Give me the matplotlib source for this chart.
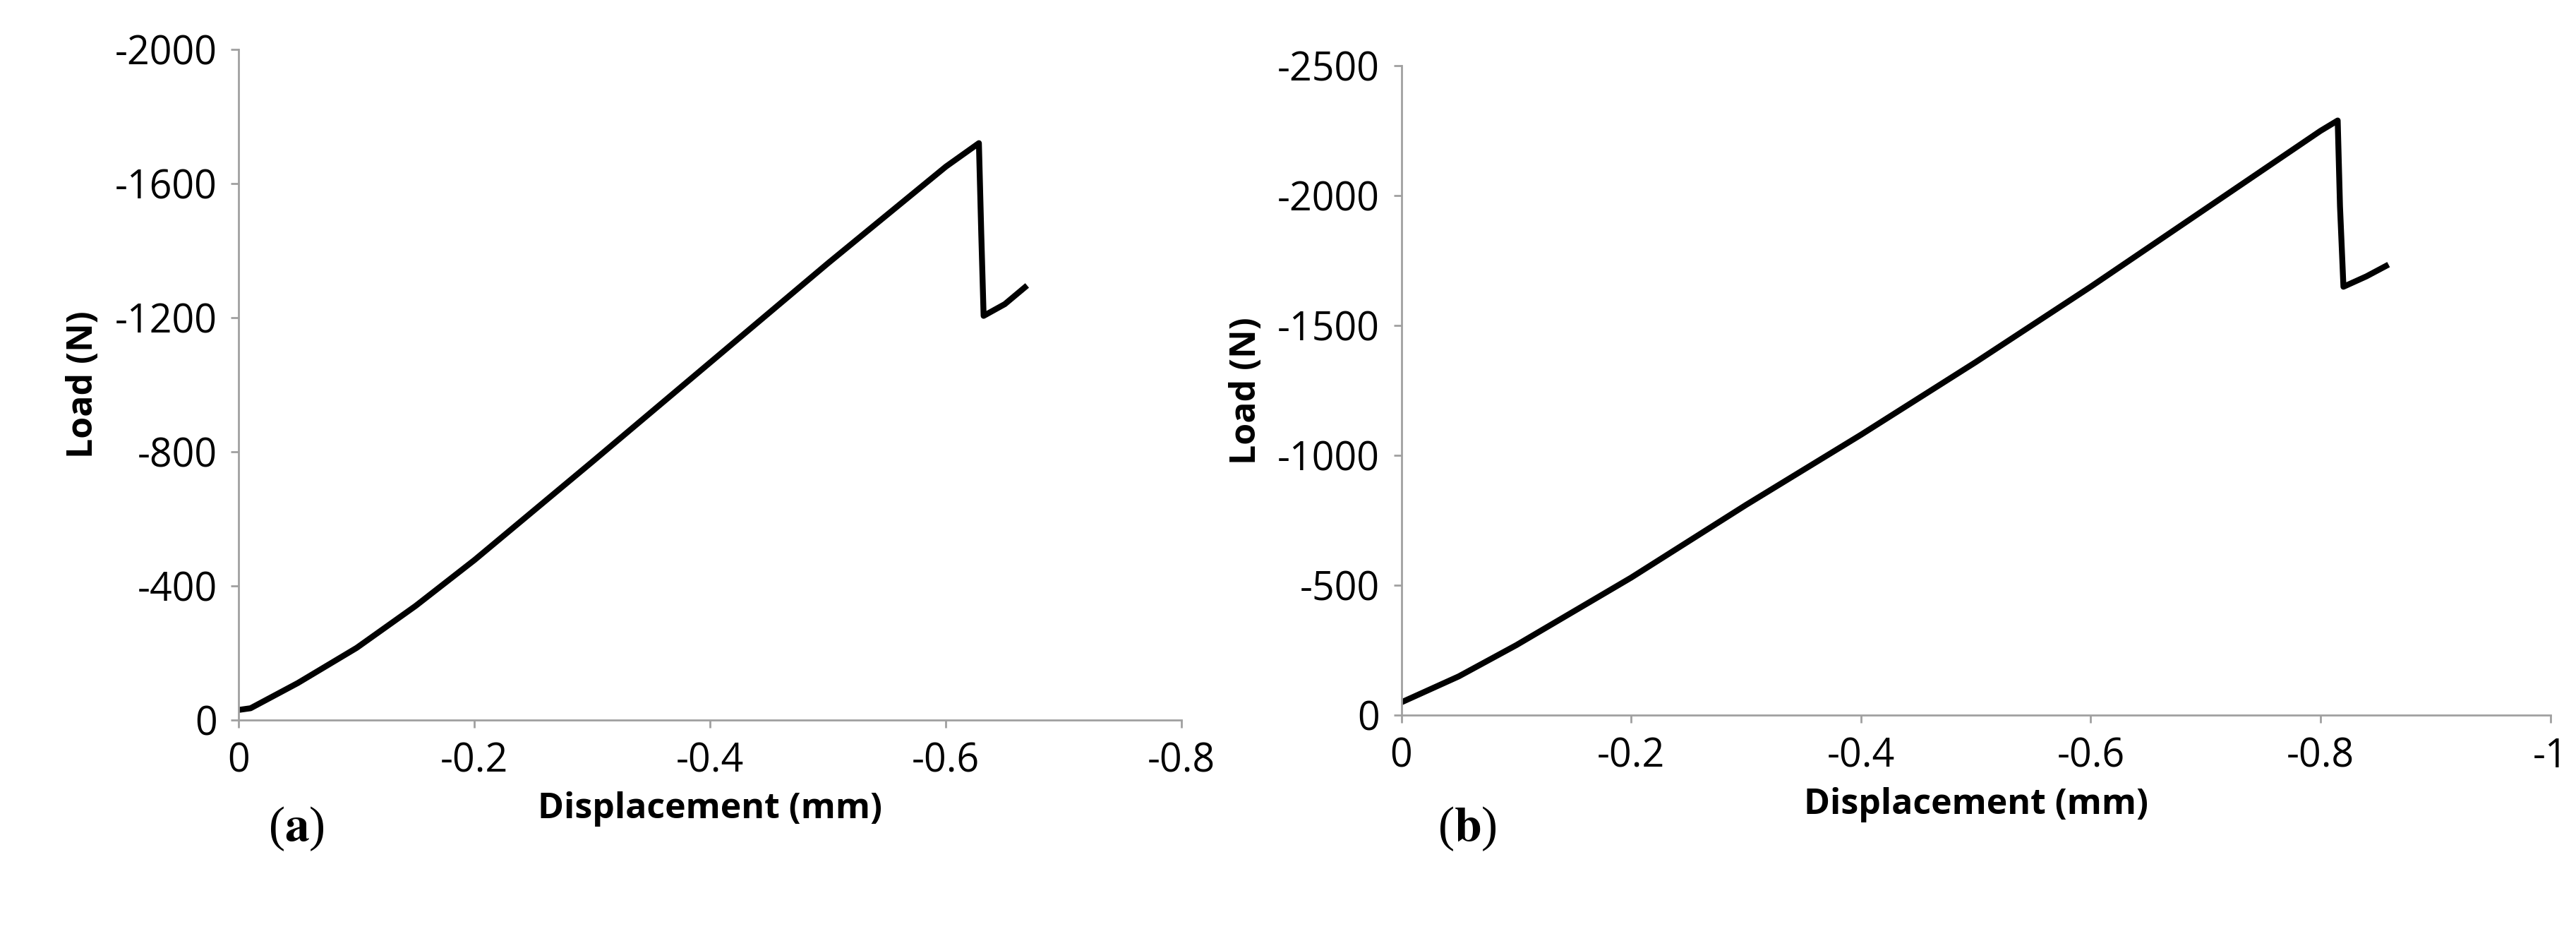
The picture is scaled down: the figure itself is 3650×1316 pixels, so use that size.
import matplotlib
matplotlib.use("Agg")
import matplotlib.pyplot as plt

# Panel (a)
a_disp = [0.0, -0.01, -0.05, -0.1, -0.15, -0.2, -0.3, -0.4, -0.5, -0.6, -0.628, -0.630, -0.632, -0.65, -0.667]
a_load = [-30, -35, -110, -215, -340, -477, -770, -1066, -1362, -1650, -1720, -1450, -1205, -1240, -1290]
# Panel (b)
b_disp = [0.0, -0.05, -0.1, -0.2, -0.3, -0.4, -0.5, -0.6, -0.7, -0.8, -0.815, -0.817, -0.82, -0.84, -0.857]
b_load = [-50, -150, -270, -530, -810, -1080, -1360, -1650, -1950, -2250, -2290, -1960, -1650, -1690, -1730]

a_xticks = [0, -0.2, -0.4, -0.6, -0.8]
a_yticks = [0, -400, -800, -1200, -1600, -2000]
b_xticks = [0, -0.2, -0.4, -0.6, -0.8, -1]
b_yticks = [0, -500, -1000, -1500, -2000, -2500]

plt.rcParams['font.family'] = ['Open Sans', 'DejaVu Sans']
plt.rcParams['mathtext.fontset'] = 'stix'
fig = plt.figure(figsize=(36.5, 13.16), dpi=100)
ax1 = fig.add_axes([0.0927, 0.225, 0.366, 0.722])
ax2 = fig.add_axes([0.544, 0.230, 0.446, 0.699])

def style(ax, xt, yt):
    ax.set_xlim(0, xt[-1]); ax.set_ylim(0, yt[-1])
    ax.set_xticks(xt); ax.set_yticks(yt)
    ax.set_xticklabels([f"{v:g}" for v in xt])
    ax.set_yticklabels([f"{v:g}" for v in yt])
    for s in ['top', 'right']:
        ax.spines[s].set_visible(False)
    for s in ['left', 'bottom']:
        ax.spines[s].set_color('#a0a0a0'); ax.spines[s].set_linewidth(2)
    ax.tick_params(labelsize=40, colors='#a0a0a0', labelcolor='black', length=8, width=2, pad=14)
    ax.set_xlabel('Displacement (mm)', fontsize=36, fontweight='bold', labelpad=10)
    ax.set_ylabel('Load (N)', fontsize=36, fontweight='bold', labelpad=14)

ax1.plot(a_disp, a_load, color='black', lw=6, solid_joinstyle='round')
ax2.plot(b_disp, b_load, color='black', lw=6, solid_joinstyle='round')
style(ax1, a_xticks, a_yticks)
style(ax2, b_xticks, b_yticks)

fig.text(0.104, 0.095, r'($\mathbf{a}$)', fontsize=50, family='Liberation Serif')
fig.text(0.558, 0.095, r'($\mathbf{b}$)', fontsize=50, family='Liberation Serif')
fig.savefig('out.png', dpi=100, facecolor='white')
